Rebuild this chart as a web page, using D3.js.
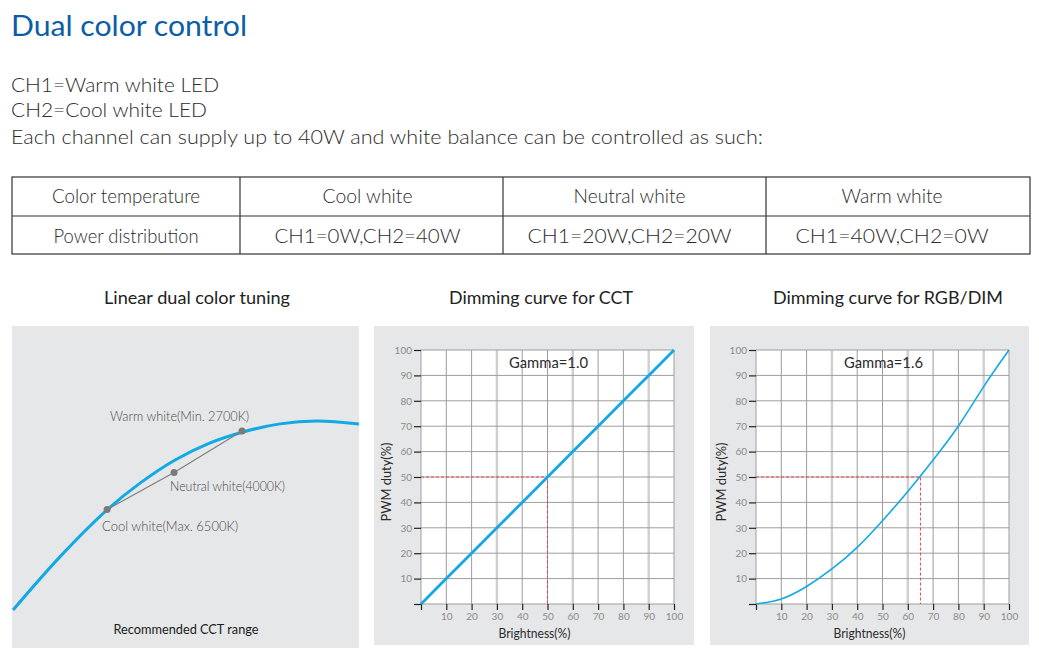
<!DOCTYPE html>
<html><head><meta charset="utf-8">
<script src="https://cdn.jsdelivr.net/npm/d3@7"></script>
<style>
body{margin:0;background:#fff}
svg{display:block}
text{font-family:Lato,'Open Sans','Noto Sans',sans-serif}
</style>
</head><body>
<svg id="c" width="1039" height="667"></svg>
<script>
// ---------------- data ----------------
const titleText = "Dual color control";
const introLines = [
  "CH1=Warm white LED",
  "CH2=Cool white LED",
  "Each channel can supply up to 40W and white balance can be controlled as such:"
];
const tableHeader = ["Color temperature", "Cool white", "Neutral white", "Warm white"];
const tableRow = ["Power distribution", "CH1=0W,CH2=40W", "CH1=20W,CH2=20W", "CH1=40W,CH2=0W"];
const panelTitles = ["Linear dual color tuning", "Dimming curve for CCT", "Dimming curve for RGB/DIM"];

// Panel 1: relative units (0-100) across the grey box
const cctCurveX = [0.3, 13.8, 27.7, 36.9, 47.0, 57.1, 66.6, 77.2, 87.9, 100];
const cctCurveY = [11.8, 28.3, 43.2, 51.2, 58.4, 63.7, 67.1, 69.6, 70.5, 69.6];
const cctPointNames = ["Cool white(Max. 6500K)", "Neutral white(4000K)", "Warm white(Min. 2700K)"];
const cctPointX = [27.4, 46.7, 66.3];
const cctPointY = [43.0, 54.5, 67.4];
const cctCaption = "Recommended CCT range";

// Panels 2 and 3
const brightness = [0, 10, 20, 30, 40, 50, 60, 70, 80, 90, 100];
const pwmGamma10 = [0, 10, 20, 30, 40, 50, 60, 70, 80, 90, 100];
const pwmGamma16 = [0, 2.0, 6.9, 13.8, 22.3, 32.8, 44.3, 56.7, 70.1, 85.6, 100];
const gammaLabels = ["Gamma=1.0", "Gamma=1.6"];
const markBrightness = [50, 65];
const markPwm = [50, 50];
const tickValues = [0, 10, 20, 30, 40, 50, 60, 70, 80, 90, 100];
const xAxisTitle = "Brightness(%)";
const yAxisTitle = "PWM duty(%)";

// ---------------- drawing ----------------
const svg = d3.select("#c");
const BLUE = "#13a9e3";
const GREY_BG = "#e6e7e8";

function fitText(sel, w) {
  sel.attr("textLength", w).attr("lengthAdjust", "spacingAndGlyphs");
}

// Title
svg.append("text").attr("x", 11).attr("y", 36).attr("font-size", 28)
  .attr("fill", "#0b5ea6").text(titleText).call(fitText, 236);

const introY = [92, 117, 144];
const introW = [208, 196, 752];
introLines.forEach((t, i) => {
  svg.append("text").attr("x", 11).attr("y", introY[i]).attr("font-size", 20)
    .attr("font-weight", 300).attr("fill", "#2b2b2b").text(t).call(fitText, introW[i]);
});

// Table
const tableX = [12, 240, 503, 766, 1030];
const tableY = [177, 216, 254];
const tg = svg.append("g");
tg.append("rect").attr("x", tableX[0]).attr("y", tableY[0])
  .attr("width", tableX[4] - tableX[0]).attr("height", tableY[2] - tableY[0])
  .attr("fill", "none").attr("stroke", "#333").attr("stroke-width", 1.2);
tg.append("line").attr("x1", tableX[0]).attr("x2", tableX[4]).attr("y1", tableY[1]).attr("y2", tableY[1])
  .attr("stroke", "#333").attr("stroke-width", 1.2);
tableX.slice(1, 4).forEach(x => {
  tg.append("line").attr("x1", x).attr("x2", x).attr("y1", tableY[0]).attr("y2", tableY[2])
    .attr("stroke", "#333").attr("stroke-width", 1.2);
});
const headW = [148, 90, 112, 101];
const rowW = [145, 186, 204, 193];
const colShift = [0, -4, -5, -6];
tableHeader.forEach((t, i) => {
  const cx = (tableX[i] + tableX[i + 1]) / 2 + colShift[i];
  tg.append("text").attr("x", cx).attr("y", 203).attr("text-anchor", "middle")
    .attr("font-size", 19).attr("font-weight", 300).attr("fill", "#2b2b2b").text(t).call(fitText, headW[i]);
});
tableRow.forEach((t, i) => {
  const cx = (tableX[i] + tableX[i + 1]) / 2 + colShift[i];
  tg.append("text").attr("x", cx).attr("y", 243).attr("text-anchor", "middle")
    .attr("font-size", 19).attr("font-weight", 300).attr("fill", "#2b2b2b").text(t).call(fitText, rowW[i]);
});

// Panel titles
const titleCx = [197, 541, 888];
const titleW = [186, 184, 230];
panelTitles.forEach((t, i) => {
  svg.append("text").attr("x", titleCx[i]).attr("y", 304).attr("text-anchor", "middle")
    .attr("font-size", 17).attr("fill", "#222").text(t).call(fitText, titleW[i]);
});

// ---------- Panel 1 ----------
const p1 = {x0: 12, x1: 359, y0: 326, y1: 648};
svg.append("rect").attr("x", p1.x0).attr("y", p1.y0).attr("width", p1.x1 - p1.x0)
  .attr("height", p1.y1 - p1.y0).attr("fill", GREY_BG);
const sx1 = d3.scaleLinear().domain([0, 100]).range([p1.x0, p1.x1]);
const sy1 = d3.scaleLinear().domain([0, 100]).range([p1.y1, p1.y0]);
const cctData = cctCurveX.map((x, i) => [x, cctCurveY[i]]);
svg.append("path").datum(cctData)
  .attr("d", d3.line().x(d => sx1(d[0])).y(d => sy1(d[1])).curve(d3.curveCatmullRom))
  .attr("fill", "none").attr("stroke", BLUE).attr("stroke-width", 3);
const ptData = cctPointX.map((x, i) => [x, cctPointY[i]]);
svg.append("path").datum(ptData)
  .attr("d", d3.line().x(d => sx1(d[0])).y(d => sy1(d[1])))
  .attr("fill", "none").attr("stroke", "#7d7d7d").attr("stroke-width", 1.1);
svg.selectAll(".pt").data(ptData).join("circle")
  .attr("cx", d => sx1(d[0])).attr("cy", d => sy1(d[1])).attr("r", 3.5).attr("fill", "#7a7a7a");
// label layout: [dx, dy, anchor, width]
const lblLayout = [[-5, 21, "start", 136], [-4, 18, "start", 115], [7, -10, "end", 139]];
cctPointNames.forEach((t, i) => {
  const L = lblLayout[i];
  svg.append("text").attr("x", sx1(cctPointX[i]) + L[0]).attr("y", sy1(cctPointY[i]) + L[1])
    .attr("text-anchor", L[2]).attr("font-size", 13).attr("font-weight", 300)
    .attr("fill", "#4a4a4a").text(t).call(fitText, L[3]);
});
svg.append("text").attr("x", 186).attr("y", 634).attr("text-anchor", "middle")
  .attr("font-size", 13).attr("fill", "#1a1a1a").text(cctCaption).call(fitText, 145);

// ---------- Panels 2 & 3 ----------
function dimPanel(box, plot, pwm, gi) {
  svg.append("rect").attr("x", box.x0).attr("y", box.y0).attr("width", box.x1 - box.x0)
    .attr("height", box.y1 - box.y0).attr("fill", GREY_BG);
  const x = d3.scaleLinear().domain([0, 100]).range([plot.x0, plot.x1]);
  const y = d3.scaleLinear().domain([0, 100]).range([plot.y1, plot.y0]);
  const g = svg.append("g");
  g.append("rect").attr("x", plot.x0).attr("y", plot.y0).attr("width", plot.x1 - plot.x0)
    .attr("height", plot.y1 - plot.y0).attr("fill", "#fff");
  const wide = v => v === 30 || v === 60 || v === 90;
  g.selectAll(".vs").data(tickValues.filter(wide)).join("line")
    .attr("x1", d => x(d)).attr("x2", d => x(d)).attr("y1", plot.y0).attr("y2", plot.y1)
    .attr("stroke", "#cfcfcf").attr("stroke-width", 2.4);
  g.selectAll(".vg").data(tickValues.filter(v => !wide(v))).join("line")
    .attr("x1", d => x(d)).attr("x2", d => x(d)).attr("y1", plot.y0).attr("y2", plot.y1)
    .attr("stroke", "#9d9d9d").attr("stroke-width", 1);
  g.selectAll(".hg").data(tickValues).join("line")
    .attr("x1", plot.x0).attr("x2", plot.x1).attr("y1", d => y(d)).attr("y2", d => y(d))
    .attr("stroke", "#9d9d9d").attr("stroke-width", 1);

  const fmt = d => d === 0 ? "" : d;
  const ax = g.append("g").attr("transform", `translate(0,${plot.y1})`)
    .call(d3.axisBottom(x).tickValues(tickValues).tickFormat(fmt).tickSize(6).tickPadding(3));
  const ay = g.append("g").attr("transform", `translate(${plot.x0},0)`)
    .call(d3.axisLeft(y).tickValues(tickValues).tickFormat(fmt).tickSize(7).tickPadding(2));
  [ax, ay].forEach(a => {
    a.select(".domain").remove();
    a.selectAll(".tick line").attr("stroke", "#222").attr("stroke-width", 1.2);
    a.selectAll(".tick text").attr("fill", "#8a8a8a").attr("font-size", 10)
      .attr("font-family", "Lato,'Open Sans',sans-serif");
  });

  const mb = markBrightness[gi], mp = markPwm[gi];
  g.append("path")
    .attr("d", d3.line()([[x(0), y(mp)], [x(mb), y(mp)], [x(mb), y(0)]]))
    .attr("fill", "none").attr("stroke", "#e5474f").attr("stroke-width", 1).attr("stroke-dasharray", "3,2");

  const data = brightness.map((b, i) => [b, pwm[i]]);
  g.append("path").datum(data)
    .attr("d", d3.line().x(d => x(d[0])).y(d => y(d[1])).curve(d3.curveNatural))
    .attr("fill", "none").attr("stroke", BLUE).attr("stroke-width", gi === 0 ? 2.8 : 1.6);

  g.append("text").attr("x", (plot.x0 + plot.x1) / 2 + 1).attr("y", 368).attr("text-anchor", "middle")
    .attr("font-size", 16).attr("fill", "#2b2b2b").text(gammaLabels[gi]).call(fitText, 79);

  g.append("text").attr("x", (plot.x0 + plot.x1) / 2 - 13).attr("y", 638).attr("text-anchor", "middle")
    .attr("font-size", 13).attr("fill", "#2b2b2b").text(xAxisTitle).call(fitText, 72);
  g.append("text").attr("transform", `translate(${plot.x0 - 30},${(plot.y0 + plot.y1) / 2 + 5}) rotate(-90)`)
    .attr("text-anchor", "middle").attr("font-size", 14).attr("fill", "#2b2b2b")
    .text(yAxisTitle).call(fitText, 79);
}
dimPanel({x0: 374, x1: 694, y0: 326, y1: 645}, {x0: 421, x1: 674, y0: 350, y1: 604}, pwmGamma10, 0);
dimPanel({x0: 710, x1: 1029, y0: 326, y1: 645}, {x0: 756, x1: 1009, y0: 350, y1: 604}, pwmGamma16, 1);
</script>
</body></html>
